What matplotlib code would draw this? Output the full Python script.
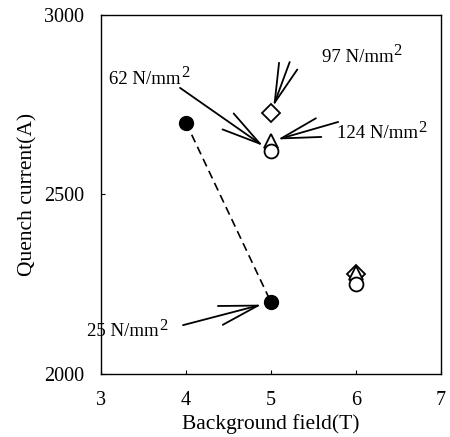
import matplotlib
matplotlib.use("Agg")
from matplotlib import pyplot as plt

plt.rcParams['font.family'] = ['Liberation Serif', 'DejaVu Serif']

# data
field_25 = [4, 5]
current_25 = [2700, 2200]
field_62 = [5, 6]
current_62 = [2620, 2250]
field_97 = [5, 6]
current_97 = [2728, 2278]
field_124 = [5, 6]
current_124 = [2648, 2282]

xticks = [3, 4, 5, 6, 7]
yticks = [2000, 2500, 3000]

fig = plt.figure(figsize=(4.5, 4.37), dpi=100)
ax = fig.add_axes([0.2244, 0.1442, 0.7556, 0.8215])

ax.plot(field_25, current_25, ls=(0, (5, 3)), c='black', lw=1.2,
        marker='o', ms=10, mfc='black', mec='black')
ax.plot(field_97, current_97, ls='none', marker='D', ms=9, mfc='white',
        mec='black', mew=1.3)
ax.plot(field_124, current_124, ls='none', marker='^', ms=10, mfc='white',
        mec='black', mew=1.3)
ax.plot(field_62, current_62, ls='none', marker='o', ms=10, mfc='white',
        mec='black', mew=1.3)

arrow = dict(arrowstyle='->, head_length=2.0, head_width=0.5', color='black',
             lw=1.3, shrinkA=0, mutation_scale=14)

ax.annotate('', xy=(field_62[0], current_62[0]), xytext=(3.93, 2797),
            arrowprops=dict(arrow, shrinkB=7))
ax.annotate('', xy=(field_97[0], current_97[0]), xytext=(5.22, 2869),
            arrowprops=dict(arrow, shrinkB=5))
ax.annotate('', xy=(field_124[0], current_124[0]), xytext=(5.79, 2702),
            arrowprops=dict(arrow, shrinkB=5))
ax.annotate('', xy=(field_25[1], current_25[1]), xytext=(3.965, 2136),
            arrowprops=dict(arrow, shrinkB=7))


def label(x, y, s):
    t = ax.text(x, y, s, fontsize=13.5, va='baseline')
    ax.annotate('2', xy=(1, 1), xycoords=t, xytext=(0, 4),
                textcoords='offset points', fontsize=12, va='top')


label(3.1, 2808, '62 N/mm')
label(5.6, 2870, '97 N/mm')
label(5.78, 2657, '124 N/mm')
label(2.84, 2105, '25 N/mm')

ax.set_xlim(3, 7)
ax.set_ylim(2000, 3000)
ax.set_xticks(xticks)
ax.set_yticks(yticks)
ax.tick_params(direction='in', length=3, labelsize=14.5, pad=12)
ax.set_xlabel('Background field(T)', fontsize=15.5, labelpad=3)
ax.set_ylabel('Quench current(A)', fontsize=15.5, labelpad=5)
for s in ax.spines.values():
    s.set_linewidth(1.0)

fig.savefig('out.png', dpi=100)
